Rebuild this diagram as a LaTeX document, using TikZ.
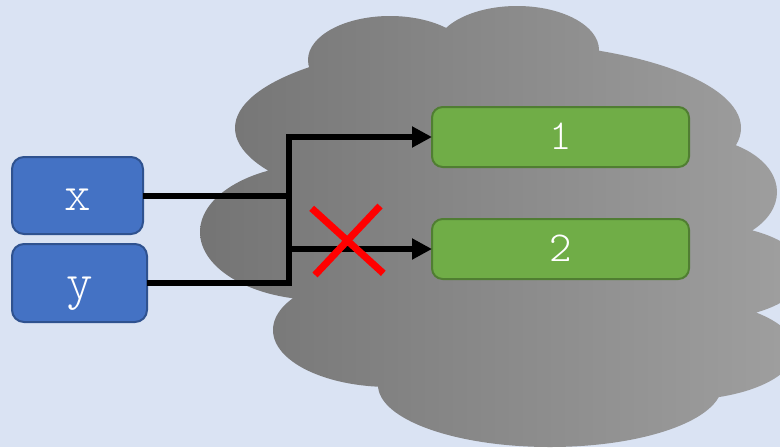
\documentclass[tikz,border=0pt]{standalone}
\usetikzlibrary{arrows.meta}
\definecolor{bgblue}{HTML}{DAE3F3}
\definecolor{boxblue}{HTML}{4472C4}
\definecolor{boxblueedge}{HTML}{2F528F}
\definecolor{boxgreen}{HTML}{70AD47}
\definecolor{boxgreenedge}{HTML}{507E32}
\definecolor{cloudL}{RGB}{116,116,116}
\definecolor{cloudR}{RGB}{158,158,158}
\tikzset{
  inbox/.style={draw=boxblueedge, fill=boxblue, line width=1.5pt,
    rounded corners=9pt, inner sep=0pt, outer sep=0pt,
    text height=23pt, text depth=0pt,
    text=white, font=\fontsize{38}{38}\ttfamily\fontseries{l}\selectfont},
  outbox/.style={draw=boxgreenedge, fill=boxgreen, line width=1.5pt,
    rounded corners=8pt, inner sep=0pt, outer sep=0pt,
    text height=18.6pt, text depth=0pt,
    minimum width=257*0.75pt, minimum height=60*0.75pt,
    text=white, font=\fontsize{32}{32}\ttfamily\fontseries{l}\selectfont},
  wire/.style={line width=4.5pt, line join=miter},
  wirearrow/.style={wire, -{Triangle[length=15pt,width=15pt]}},
  redx/.style={draw=red, line width=5.3pt}
}
\begin{document}
\begin{tikzpicture}[x=0.75pt,y=-0.75pt]
  % page
  \fill[bgblue] (0,0) rectangle (780,447);
  \useasboundingbox (0,0) rectangle (780,447);

  % the cloud: union of ellipses filled with a left-to-right gradient
  \begin{scope}
    \clip (390,60)  ellipse [x radius=82,  y radius=44]
          (517,50)  ellipse [x radius=82,  y radius=44]
          (488,128) ellipse [x radius=253, y radius=86]
          (690,192) ellipse [x radius=87,  y radius=55]
          (700,272) ellipse [x radius=105, y radius=48]
          (680,350) ellipse [x radius=115, y radius=50]
          (550,385) ellipse [x radius=172, y radius=62]
          (390,330) ellipse [x radius=117, y radius=57]
          (320,232) ellipse [x radius=120, y radius=68]
          (520,240) ellipse [x radius=200, y radius=150];
    \shade[left color=cloudL, right color=cloudR] (195,0) rectangle (780,447);
  \end{scope}

  % inputs
  \node[inbox, minimum width=131*0.75pt, minimum height=77*0.75pt] (xbox) at (77.5,195.5) {x};
  \node[inbox, minimum width=135*0.75pt, minimum height=78*0.75pt] (ybox) at (79.5,283) {y};

  % outputs
  \node[outbox] (out1) at (560.5,137) {1};
  \node[outbox] (out2) at (560.5,249) {2};

  % bus
  \coordinate (bustop) at (289,137);
  \draw[wirearrow] (ybox.east) -| (bustop) -- (out1.west);
  \draw[wire] (xbox.east) -- (xbox.east -| bustop);
  \draw[wirearrow] (bustop |- out2.west) -- (out2.west);

  % blocked route
  \draw[redx] (311.7,208.3) -- (383.3,273.3);
  \draw[redx] (380,206) -- (315,275);
\end{tikzpicture}
\end{document}
